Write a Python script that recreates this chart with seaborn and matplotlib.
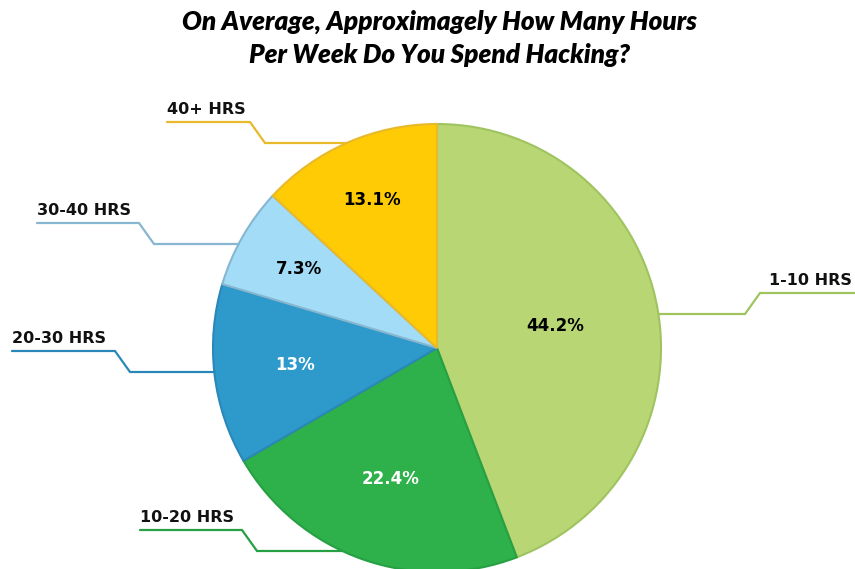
import numpy as np
import matplotlib
matplotlib.use('Agg')
import matplotlib.pyplot as plt
import seaborn as sns

# data
categorias = ['1-10 HRS', '10-20 HRS', '20-30 HRS', '30-40 HRS', '40+ HRS']
porcentajes = [44.2, 22.4, 13.0, 7.3, 13.1]
etiquetas_pct = ['44.2%', '22.4%', '13%', '7.3%', '13.1%']

# estilos
colores = ['#b8d774', '#2eb04b', '#2e9acb', '#a3dcf6', '#ffcb05']
bordes = ['#9fc45f', '#27a043', '#2a88b8', '#86b6d0', '#e8b92a']
color_pct = ['black', 'white', 'white', 'black', 'black']
dist_pct = [0.535, 0.62, 0.64, 0.71, 0.72]

W, H = 855, 569
CX, CY, R = 437, H - 348, 224

sns.set_theme(style='white')
plt.rcParams['font.family'] = ['DejaVu Sans']

fig = plt.figure(figsize=(W / 100, H / 100), dpi=100)
ax = fig.add_axes([0, 0, 1, 1])

wedges, _ = ax.pie(porcentajes, colors=colores, startangle=90, counterclock=False,
                   center=(CX, CY), radius=R,
                   wedgeprops=dict(linewidth=1.5))
for w, b in zip(wedges, bordes):
    w.set_edgecolor(b)

ax.set_xlim(0, W)
ax.set_ylim(0, H)
ax.set_aspect('auto')
ax.axis('off')

# porcentajes dentro
for w, txt, c, d in zip(wedges, etiquetas_pct, color_pct, dist_pct):
    ang = np.deg2rad((w.theta1 + w.theta2) / 2)
    ax.text(CX + d * R * np.cos(ang), CY + d * R * np.sin(ang), txt,
            ha='center', va='center', color=c, fontsize=12, fontweight='bold')

# etiquetas con lineas guia (pixeles desde arriba)
# (x inicio subrayado, x codo, y subrayado, lado)
guias = {
    '1-10 HRS': (855, 760, 293, 'r'),
    '10-20 HRS': (140, 242, 530, 'l'),
    '20-30 HRS': (12, 115, 351, 'l'),
    '30-40 HRS': (37, 139, 223, 'l'),
    '40+ HRS': (167, 250, 122, 'l'),
}
for cat, b in zip(categorias, bordes):
    x0, x1, uy, lado = guias[cat]
    y_top = H - uy
    y_low = y_top - 21
    dx = np.sqrt(R ** 2 - (y_low - CY) ** 2)
    if lado == 'l':
        x2 = x1 + 15
        xa = CX - dx
        ax.text(x0, y_top + 8, cat, ha='left', va='baseline', fontsize=11.5,
                fontweight='bold', color='#111111')
    else:
        x2 = x1 - 15
        xa = CX + dx
        ax.text(852, y_top + 8, cat, ha='right', va='baseline', fontsize=11.5,
                fontweight='bold', color='#111111')
    ax.plot([x0, x1, x2, xa], [y_top, y_top, y_low, y_low], color=b, lw=1.6,
            solid_joinstyle='miter', clip_on=False)

fig.text(439 / W, 1 - 22 / H, 'On Average, Approximagely How Many Hours',
         ha='center', va='center', fontsize=18.8, fontweight='heavy',
         style='italic', family='Lato', color='black')
fig.text(439 / W, 1 - 55 / H, 'Per Week Do You Spend Hacking?',
         ha='center', va='center', fontsize=18.8, fontweight='heavy',
         style='italic', family='Lato', color='black')

fig.savefig('out.png', dpi=100)
